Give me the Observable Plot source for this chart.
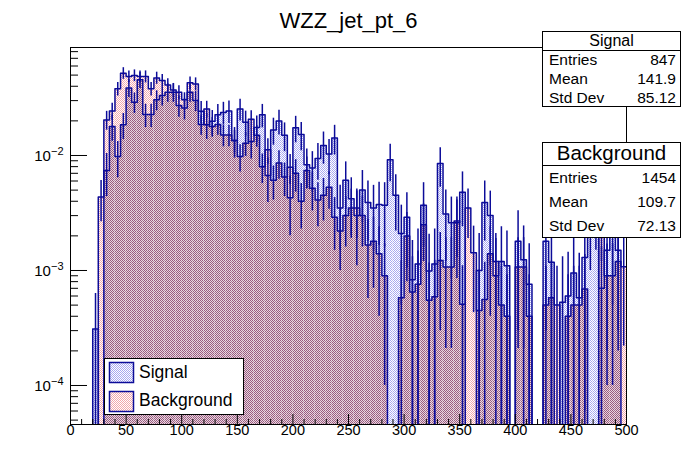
<!DOCTYPE html>
<html><head><meta charset="utf-8">
<script src="https://cdn.jsdelivr.net/npm/d3@7"></script>
<script src="https://cdn.jsdelivr.net/npm/@observablehq/plot@0.6"></script>
<style>
html,body{margin:0;padding:0;background:#fff;}
#chart{position:relative;width:696px;height:472px;overflow:hidden}
svg{display:block}
</style></head><body><div id="chart"></div>
<script>
// ---- data ----
const plotTitle = "WZZ_jet_pt_6";
const seriesNames = ["Signal", "Background"];
const statLabels = ["Entries", "Mean", "Std Dev"];
const signalStats = ["847", "141.9", "85.12"];
const backgroundStats = ["1454", "109.7", "72.13"];
const binWidth = 5;
const binLow = d3.range(0, 500, binWidth);

const sigValues = [0, 0, 0, 0, 0.00031, 0, 0.0074, 0.0179, 0.0098, 0.0185,
 0.0387, 0.0291, 0.0455, 0.0227, 0.0227, 0.0305, 0.0332, 0.0355, 0.0355, 0.0272,
 0.0259, 0.0355, 0.0301, 0.0242, 0.0185, 0.0198, 0.0226, 0.0237, 0.0244, 0.0135,
 0.0254, 0.0195, 0.0132, 0.0175, 0.0226, 0.0067, 0.0167, 0.0199, 0.0150, 0.0043,
 0.0174, 0.0152, 0.0083, 0.0078, 0.0094, 0.0122, 0.0103, 0.0142, 0.0035, 0.0061,
 0.0042, 0.0030, 0.0050, 0.0039, 0.0035, 0.00375, 0.0037, 0.0092, 0.0045, 0.0021,
 0.0029, 0.00083, 0.00114, 0.0037, 0.00099, 0.00114, 0.0085, 0.0031, 0.0026, 0.0026,
 0.0048, 0, 0, 0.0010, 0.0039, 0.0030, 0.0009, 0.0012, 0.0011, 0,
 0.0018, 0.00124, 0.00076, 0, 0, 0.0018, 0.00118, 0, 0.00053, 0.0006,
 0.00095, 0.00058, 0.0013, 0.0028, 0.0035, 0.0007, 0.0015, 0.0020, 0.0015, 0];

const sigErrors = [0, 0, 0, 0, 0.00032, 0, 0.0030, 0.0046, 0.0034, 0.0047,
 0.0068, 0.0059, 0.0073, 0.0052, 0.0052, 0.0060, 0.0063, 0.0065, 0.0065, 0.0057,
 0.0055, 0.0065, 0.0060, 0.0053, 0.0047, 0.0048, 0.0052, 0.0053, 0.0054, 0.0040,
 0.0055, 0.0048, 0.0039, 0.0045, 0.0052, 0.0028, 0.0044, 0.0048, 0.0042, 0.0023,
 0.0045, 0.0042, 0.0031, 0.0030, 0.0033, 0.0038, 0.0035, 0.0041, 0.0020, 0.0027,
 0.0022, 0.0019, 0.0024, 0.0021, 0.0020, 0.0021, 0.0021, 0.0033, 0.0023, 0.0016,
 0.00185, 0.00099, 0.00116, 0.0021, 0.00108, 0.00116, 0.0032, 0.0019, 0.00175, 0.00175,
 0.0024, 0, 0, 0.0011, 0.0021, 0.0019, 0.0010, 0.0012, 0.0011, 0,
 0.0015, 0.0012, 0.00095, 0, 0, 0.0015, 0.0012, 0, 0.00079, 0.00084,
 0.00106, 0.00083, 0.00124, 0.0018, 0.0020, 0.0009, 0.0013, 0.0015, 0.0013, 0];

const bgValues = [0, 0, 0, 0, 0, 0.00435, 0.0204, 0.0244, 0.038, 0.052,
 0.0486, 0.0497, 0.0486, 0.0486, 0.038, 0.0473, 0.0449, 0.0411, 0.0372, 0.0355,
 0.0305, 0.0428, 0.0419, 0.0186, 0.0254, 0.0179, 0.0186, 0.0151, 0.0151, 0.0135,
 0.0098, 0.0128, 0.0207, 0.0150, 0.0080, 0.0112, 0.0061, 0.0086, 0.0065, 0.0079,
 0.0070, 0.0040, 0.0074, 0.0052, 0.0041, 0.0045, 0.0053, 0.0029, 0.0022, 0.0030,
 0.0035, 0.0035, 0.0030, 0.00167, 0.0018, 0.0014, 0.0009, 0, 0, 0.00058,
 0.0020, 0.00065, 0.00076, 0.0025, 0.00055, 0.00059, 0.00122, 0.00107, 0.00107, 0.0027,
 0.00051, 0.0035, 0.00143, 0.00045, 0.00056, 0.0014, 0.0012, 0.0005, 0.0004, 0,
 0.00107, 0.00107, 0.0004, 0, 0, 0.0005, 0.00058, 0.0005, 0, 0.0004,
 0.0005, 0.0005, 0.00069, 0, 0, 0.0025, 0.0009, 0.0009, 0.0012, 0.00108];

const bgErrors = [0, 0, 0, 0, 0, 0.0017, 0.0038, 0.0041, 0.0051, 0.0060,
 0.0058, 0.0058, 0.0058, 0.0058, 0.0051, 0.0057, 0.0056, 0.0053, 0.0051, 0.0049,
 0.0046, 0.0054, 0.0054, 0.0036, 0.0042, 0.0035, 0.0036, 0.0032, 0.0032, 0.0030,
 0.0026, 0.0030, 0.0038, 0.0032, 0.0023, 0.0028, 0.0020, 0.0024, 0.0021, 0.0023,
 0.0022, 0.0017, 0.0023, 0.0019, 0.0017, 0.0018, 0.0019, 0.0014, 0.0012, 0.0014,
 0.0016, 0.0016, 0.0014, 0.0011, 0.0011, 0.0010, 0.0008, 0, 0, 0.00063,
 0.0012, 0.00067, 0.00072, 0.0013, 0.00061, 0.00064, 0.00092, 0.00086, 0.00086, 0.0014,
 0.00059, 0.0016, 0.0010, 0.00056, 0.00062, 0.0010, 0.0009, 0.00059, 0.00052, 0,
 0.00086, 0.00086, 0.00052, 0, 0, 0.00059, 0.00063, 0.00059, 0, 0.00052,
 0.00059, 0.00059, 0.00069, 0, 0, 0.0013, 0.0008, 0.0008, 0.0009, 0.00086];

const xTickValues = [0, 50, 100, 150, 200, 250, 300, 350, 400, 450, 500];
const xMinorTicks = d3.range(0, 501, 10).filter(v => v % 50 !== 0);
const yTickValues = [1e-4, 1e-3, 1e-2];
const yTickExponents = ["\u22124", "\u22123", "\u22122"];
const yMinorTicks = [5e-5, 6e-5, 7e-5, 8e-5, 9e-5,
  2e-4, 3e-4, 4e-4, 5e-4, 6e-4, 7e-4, 8e-4, 9e-4,
  2e-3, 3e-3, 4e-3, 5e-3, 6e-3, 7e-3, 8e-3, 9e-3,
  2e-2, 3e-2, 4e-2, 5e-2, 6e-2, 7e-2, 8e-2];
const yDomain = [4.58e-5, 0.0869];
const xDomain = [0, 500];

// ---- drawing ----
const FONT = "'Liberation Sans', Arial, Helvetica, sans-serif";
const NAVY = "#0c0c99";
const W = 696, H = 472, ML = 70, MR = 70, MT = 47, MB = 48;
const FW = W - ML - MR, FH = H - MT - MB;
const Y0 = 1e-9;

const bins = binLow.map((x0, i) => {
  const sig = sigValues[i], bg = bgValues[i];
  return {
    x0, x1: x0 + binWidth, xc: x0 + binWidth / 2,
    sig, sigErr: sigErrors[i], bg, bgErr: bgErrors[i],
    lo: Math.min(sig, bg), hi: Math.max(sig, bg), sigTop: sig > bg
  };
});
const sigBins = bins.filter(b => b.sig > 0);
const bgBins = bins.filter(b => b.bg > 0);
const overlapBins = bins.filter(b => b.lo > 0);
const sigExcess = bins.filter(b => b.hi > b.lo && b.sigTop);
const bgExcess = bins.filter(b => b.hi > b.lo && !b.sigTop);
const step = key => bins.map(b => ({x: b.x0, y: b[key] > 0 ? b[key] : Y0}))
  .concat([{x: xDomain[1], y: bins[bins.length - 1][key] > 0 ? bins[bins.length - 1][key] : Y0}]);

const svg = Plot.plot({
  width: W, height: H, marginLeft: ML, marginRight: MR, marginTop: MT, marginBottom: MB,
  style: {fontFamily: FONT, background: "white", color: "black"},
  x: {domain: xDomain, axis: null},
  y: {type: "log", domain: yDomain, axis: null},
  marks: [
    Plot.rect(overlapBins, {x1: "x0", x2: "x1", y1: () => Y0, y2: "lo", fill: "url(#ovPat)", clip: true}),
    Plot.rect(bgExcess, {x1: "x0", x2: "x1", y1: b => b.lo > 0 ? b.lo : Y0, y2: "hi", fill: "url(#bgPat)", clip: true}),
    Plot.rect(sigExcess, {x1: "x0", x2: "x1", y1: b => b.lo > 0 ? b.lo : Y0, y2: "hi", fill: "url(#sigPat)", clip: true}),
    Plot.line(step("bg"), {x: "x", y: "y", curve: "step-after", stroke: NAVY, strokeWidth: 1.5, clip: true}),
    Plot.line(step("sig"), {x: "x", y: "y", curve: "step-after", stroke: NAVY, strokeWidth: 1.5, clip: true}),
    Plot.ruleX(bgBins, {x: "xc", y1: b => Math.max(b.bg - b.bgErr, Y0), y2: b => b.bg + b.bgErr, stroke: NAVY, strokeWidth: 1.5, clip: true}),
    Plot.ruleX(sigBins, {x: "xc", y1: b => Math.max(b.sig - b.sigErr, Y0), y2: b => b.sig + b.sigErr, stroke: NAVY, strokeWidth: 1.5, clip: true}),
    Plot.frame({stroke: "black"}),
    Plot.ruleX(xTickValues, {x: d => d, insetTop: FH - 10, stroke: "black"}),
    Plot.ruleX(xMinorTicks, {x: d => d, insetTop: FH - 5, stroke: "black"}),
    Plot.ruleY(yTickValues, {y: d => d, insetRight: FW - 17, stroke: "black"}),
    Plot.ruleY(yMinorTicks, {y: d => d, insetRight: FW - 8, stroke: "black"}),
    Plot.text(xTickValues, {x: d => d, frameAnchor: "bottom", dy: 10, text: d => String(d), fontSize: 14.5, fill: "black"}),
    Plot.text(yTickValues, {y: d => d, frameAnchor: "left", dx: -7, dy: 1, textAnchor: "end", text: () => "10", fontSize: 15, fill: "black"}),
    Plot.text([plotTitle], {frameAnchor: "top", dy: -35, text: d => d, fontSize: 22, fill: "black"})
  ]
});

const sel = d3.select(svg);
const defs = sel.insert("defs", ":first-child");
function makePattern(id, dark, light) {
  const p = defs.append("pattern").attr("id", id).attr("patternUnits", "userSpaceOnUse")
    .attr("width", 2).attr("height", 2);
  p.append("rect").attr("x", 0).attr("y", 0).attr("width", 2).attr("height", 2).attr("fill", light);
  p.append("rect").attr("x", 0).attr("y", 0).attr("width", 1).attr("height", 1).attr("fill", dark).attr("shape-rendering", "crispEdges");
  p.append("rect").attr("x", 1).attr("y", 1).attr("width", 1).attr("height", 1).attr("fill", dark).attr("shape-rendering", "crispEdges");
}
makePattern("ovPat", "#9a5a80", "#e6d6de");
makePattern("bgPat", "#f2a6ac", "#ffffff");
makePattern("sigPat", "#a8a8f0", "#ffffff");

// superscript exponents on y labels (ordered by position, bottom first)
const ylabs = sel.selectAll("text").filter(function() { return this.textContent === "10"; }).nodes();
const ylabY = n => { const t = n.getAttribute("y"); const tr = n.getAttribute("transform") || ""; const m = tr.match(/translate\(([^,\s]+)[,\s]+([^)]+)\)/); return (t ? +t : 0) + (m ? +m[2] : 0); };
ylabs.sort((a, b) => ylabY(b) - ylabY(a));
ylabs.forEach((n, i) => {
  d3.select(n).append("tspan").attr("dy", -6).attr("font-size", 11).text(yTickExponents[i]);
});

// legend
const leg = sel.append("g").attr("font-family", FONT).attr("text-anchor", "start");
leg.append("rect").attr("x", 104.5).attr("y", 358.5).attr("width", 139).attr("height", 56)
  .attr("fill", "white").attr("stroke", "black");
const legFills = ["url(#sigPat)", "url(#bgPat)"];
seriesNames.forEach((name, i) => {
  leg.append("rect").attr("x", 109.5).attr("y", 362.5 + i * 29).attr("width", 24).attr("height", 20)
    .attr("fill", legFills[i]).attr("stroke", NAVY).attr("stroke-width", 1.5);
  leg.append("text").attr("x", 139).attr("y", 378 + i * 28).attr("text-anchor", "start")
    .attr("font-size", 17.5).attr("fill", "black").text(name);
});

// stats boxes
function statBox(y0, h, sepY, title, titleSize, titleBase, rowsBase, values) {
  const g = sel.append("g").attr("font-family", FONT).attr("fill", "black");
  g.append("rect").attr("x", 542.5).attr("y", y0).attr("width", 138).attr("height", h)
    .attr("fill", "white").attr("stroke", "black");
  g.append("line").attr("x1", 542.5).attr("x2", 680.5).attr("y1", sepY).attr("y2", sepY).attr("stroke", "black");
  g.append("text").attr("x", 611.5).attr("y", titleBase).attr("text-anchor", "middle").attr("font-size", titleSize).text(title);
  statLabels.forEach((lab, i) => {
    g.append("text").attr("x", 549).attr("y", rowsBase[i]).attr("text-anchor", "start").attr("font-size", 15.5).text(lab);
    g.append("text").attr("x", 676).attr("y", rowsBase[i]).attr("text-anchor", "end").attr("font-size", 15.5).text(values[i]);
  });
}
statBox(31.5, 75, 50.5, seriesNames[0], 16, 46, [64.5, 83.5, 102.5], signalStats);
statBox(142.5, 95, 165.5, seriesNames[1], 20.5, 160, [183, 206.5, 230.5], backgroundStats);

document.getElementById("chart").appendChild(svg);
</script>
</body></html>
